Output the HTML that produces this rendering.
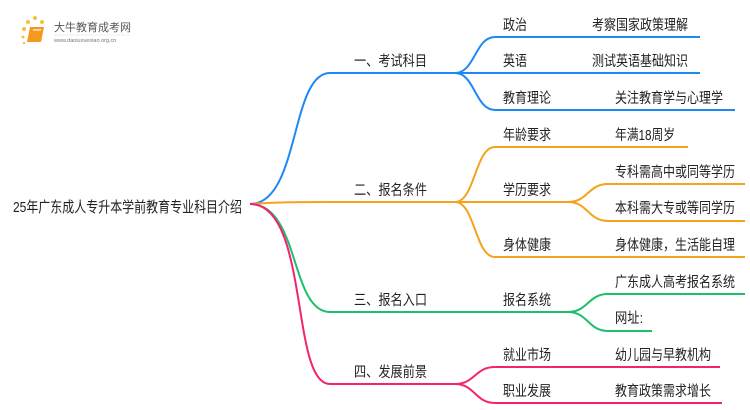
<!DOCTYPE html>
<html><head><meta charset="utf-8"><style>
html,body{margin:0;padding:0;background:#fff;}
svg{display:block}
text{font-family:"Liberation Sans","Noto Sans CJK SC",sans-serif;fill:#222;font-size:14.5px}
</style></head><body>
<svg width="750" height="410" viewBox="0 0 750 410" xmlns="http://www.w3.org/2000/svg">
<g>
<circle cx="24" cy="29" r="2" fill="#f7c23a"/><circle cx="28" cy="22" r="2" fill="#f7c23a"/><circle cx="35" cy="18" r="2" fill="#f7c23a"/><circle cx="42" cy="22" r="2" fill="#f7c23a"/><circle cx="23" cy="37" r="1.5" fill="#f7c23a"/><circle cx="24" cy="43" r="1.2" fill="#f7c23a"/>
<path d="M30 27 L44 27 L41 42 L27 42 Z" fill="#f39a1e"/>
<path d="M33 30 L41 30" stroke="#fff" stroke-width="1.2"/>
<text x="54" y="31" style="font-size:11px;fill:#555">大牛教育成考网</text>
<line x1="54" y1="35" x2="130" y2="35" stroke="#ddd" stroke-width="0.6"/>
<text x="54" y="42" style="font-size:5.5px;fill:#777">www.daniuxuexiao.org.cn</text>
</g>
<text x="13" y="212" textLength="229" lengthAdjust="spacingAndGlyphs" style="font-size:15px">25年广东成人专升本学前教育专业科目介绍</text>
<g fill="none" stroke-width="2">
<path d="M250 204 C300 204,290 73,330 73 L455 73" stroke="#1e88f5"/>
<path d="M455 73 C475 73,475 37,495 37 L700 37" stroke="#1e88f5"/>
<path d="M455 73 L700 73" stroke="#1e88f5"/>
<path d="M455 73 C475 73,475 110,495 110 L735 110" stroke="#1e88f5"/>
<path d="M250 204 C280 202,300 202,330 202 L455 202" stroke="#f5a31a"/>
<path d="M455 202 C475 202,475 147,495 147 L688 147" stroke="#f5a31a"/>
<path d="M455 202 L568 202" stroke="#f5a31a"/>
<path d="M568 202 C588 202,588 184,608 184 L745 184" stroke="#f5a31a"/>
<path d="M568 202 C588 202,588 221,608 221 L745 221" stroke="#f5a31a"/>
<path d="M455 202 C475 202,475 257,495 257 L745 257" stroke="#f5a31a"/>
<path d="M250 204 C300 204,290 312,330 312 L568 312" stroke="#1cc06b"/>
<path d="M568 312 C588 312,588 294,608 294 L745 294" stroke="#1cc06b"/>
<path d="M568 312 C588 312,588 331,608 331 L652 331" stroke="#1cc06b"/>
<path d="M250 204 C310 204,290 384,330 384 L455 384" stroke="#f5226e"/>
<path d="M455 384 C475 384,475 367,495 367 L720 367" stroke="#f5226e"/>
<path d="M455 384 C475 384,475 403,495 403 L722 403" stroke="#f5226e"/>
</g>
<g style="" >
<text x="354" y="66" textLength="73" lengthAdjust="spacingAndGlyphs">一、考试科目</text>
<text x="354" y="195" textLength="73" lengthAdjust="spacingAndGlyphs">二、报名条件</text>
<text x="354" y="305" textLength="73" lengthAdjust="spacingAndGlyphs">三、报名入口</text>
<text x="354" y="377" textLength="73" lengthAdjust="spacingAndGlyphs">四、发展前景</text>
<text x="503" y="30" textLength="24" lengthAdjust="spacingAndGlyphs">政治</text>
<text x="592" y="30" textLength="96" lengthAdjust="spacingAndGlyphs">考察国家政策理解</text>
<text x="503" y="66" textLength="24" lengthAdjust="spacingAndGlyphs">英语</text>
<text x="592" y="66" textLength="96" lengthAdjust="spacingAndGlyphs">测试英语基础知识</text>
<text x="503" y="103" textLength="48" lengthAdjust="spacingAndGlyphs">教育理论</text>
<text x="615" y="103" textLength="108" lengthAdjust="spacingAndGlyphs">关注教育学与心理学</text>
<text x="503" y="140" textLength="48" lengthAdjust="spacingAndGlyphs">年龄要求</text>
<text x="615" y="140" textLength="60" lengthAdjust="spacingAndGlyphs">年满18周岁</text>
<text x="503" y="195" textLength="48" lengthAdjust="spacingAndGlyphs">学历要求</text>
<text x="615" y="177" textLength="120" lengthAdjust="spacingAndGlyphs">专科需高中或同等学历</text>
<text x="615" y="213" textLength="120" lengthAdjust="spacingAndGlyphs">本科需大专或等同学历</text>
<text x="503" y="250" textLength="48" lengthAdjust="spacingAndGlyphs">身体健康</text>
<text x="615" y="250" textLength="120" lengthAdjust="spacingAndGlyphs">身体健康，生活能自理</text>
<text x="503" y="305" textLength="48" lengthAdjust="spacingAndGlyphs">报名系统</text>
<text x="615" y="287" textLength="120" lengthAdjust="spacingAndGlyphs">广东成人高考报名系统</text>
<text x="615" y="323" textLength="28" lengthAdjust="spacingAndGlyphs">网址:</text>
<text x="503" y="360" textLength="48" lengthAdjust="spacingAndGlyphs">就业市场</text>
<text x="615" y="360" textLength="96" lengthAdjust="spacingAndGlyphs">幼儿园与早教机构</text>
<text x="503" y="396" textLength="48" lengthAdjust="spacingAndGlyphs">职业发展</text>
<text x="615" y="396" textLength="96" lengthAdjust="spacingAndGlyphs">教育政策需求增长</text>
</g>
</svg>
</body></html>
